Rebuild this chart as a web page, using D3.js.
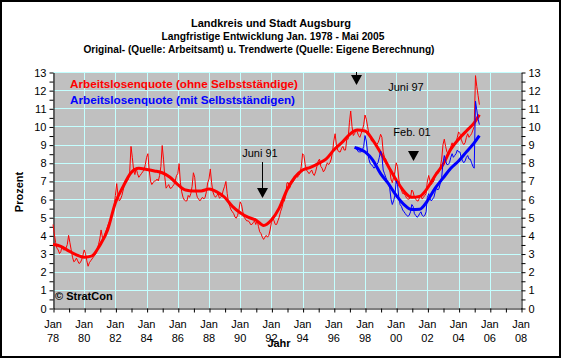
<!DOCTYPE html>
<html>
<head>
<meta charset="utf-8">
<script src="https://cdn.jsdelivr.net/npm/d3@7"></script>
<style>
  body { margin: 0; background: #fff; }
  text { font-family: Arial, "Liberation Sans", sans-serif; }
</style>
</head>
<body>
<svg width="561" height="358"></svg>
<script>
// monthly values, Jan 1978 - May 2005 (ohne Selbststaendige)
const redOriginal = [
  4.6, 4.1, 3.6, 3.3, 3.2, 3.0, 3.1, 3.4, 3.2, 3.2, 3.3, 3.5,   // 78
  4.0, 3.6, 3.2, 2.8, 2.55, 2.6, 2.75, 2.6, 2.45, 2.5, 2.65, 2.9, // 79
  3.2, 3.0, 2.6, 2.3, 2.5, 2.6, 2.7, 2.8, 2.9, 3.0, 3.2, 3.5,   // 80
  3.8, 4.3, 3.9, 3.8, 4.1, 4.3, 4.5, 4.7, 4.8, 5.0, 5.3, 5.6,   // 81
  6.2, 6.85, 6.2, 5.9, 6.0, 6.2, 6.5, 6.8, 6.9, 7.0, 7.1, 7.5,  // 82
  8.9, 8.3, 7.6, 7.35, 7.7, 7.4, 7.2, 7.3, 7.4, 7.5, 7.6, 7.9,  // 83
  8.3, 8.5, 7.6, 7.0, 6.8, 6.9, 7.0, 7.0, 7.1, 7.0, 7.3, 7.8,   // 84
  8.95, 8.2, 7.2, 6.6, 6.7, 6.8, 6.6, 6.6, 6.7, 6.8, 7.0, 7.3,  // 85
  7.4, 7.95, 6.9, 6.4, 6.1, 5.95, 5.9, 5.9, 6.2, 6.1, 6.3, 6.7, // 86
  7.45, 7.2, 6.4, 6.1, 6.0, 5.9, 6.0, 6.1, 6.0, 6.1, 6.4, 6.9,  // 87
  7.1, 7.66, 6.9, 6.4, 6.2, 6.1, 6.2, 6.3, 6.05, 6.1, 6.2, 6.5, // 88
  6.7, 6.97, 6.3, 5.8, 5.6, 5.4, 5.3, 5.2, 5.0, 4.95, 5.1, 5.4, // 89
  5.85, 5.7, 5.3, 5.0, 4.9, 4.8, 4.8, 4.75, 4.6, 4.6, 4.7, 4.8, // 90
  4.6, 4.85, 4.5, 4.2, 4.1, 3.9, 3.78, 3.9, 4.0, 3.9, 4.0, 4.3, // 91
  4.7, 5.0, 4.8, 4.6, 4.6, 4.8, 5.0, 5.3, 5.5, 5.8, 5.9, 6.2,   // 92
  6.9, 6.9, 6.6, 6.8, 6.9, 7.0, 7.1, 7.3, 7.2, 7.3, 7.4, 7.8,   // 93
  8.5, 8.4, 7.9, 7.6, 7.5, 7.4, 7.5, 7.6, 7.4, 7.3, 7.5, 7.8,   // 94
  8.1, 8.2, 7.8, 7.7, 7.5, 7.6, 7.8, 8.0, 7.9, 8.0, 8.2, 8.6,   // 95
  9.2, 9.6, 9.0, 8.7, 8.6, 8.6, 8.8, 8.9, 8.7, 8.7, 9.3, 9.3,   // 96
  10.2, 10.85, 10.0, 9.5, 9.6, 9.8, 9.7, 9.5, 9.4, 9.6, 9.8, 10.1, // 97
  10.63, 10.4, 10.0, 9.6, 9.4, 9.2, 9.2, 9.1, 9.0, 9.0, 9.1, 9.3,  // 98
  9.57, 9.4, 8.6, 8.3, 8.2, 8.0, 7.8, 7.6, 7.1, 6.9, 7.2, 7.5,     // 99
  8.0, 7.8, 7.1, 6.7, 6.5, 6.3, 6.3, 6.2, 6.05, 6.0, 6.0, 6.1,     // 00
  6.5, 6.4, 6.1, 6.0, 5.9, 5.9, 6.1, 6.2, 6.0, 6.1, 6.2, 6.3,      // 01
  7.0, 7.3, 7.0, 6.8, 6.9, 7.0, 7.3, 7.5, 7.4, 7.5, 7.8, 8.2,      // 02
  9.0, 9.3, 8.9, 8.6, 8.5, 8.6, 8.9, 9.1, 8.9, 9.0, 9.1, 9.4,      // 03
  9.7, 9.6, 9.3, 9.1, 9.0, 9.1, 9.4, 9.6, 9.4, 9.5, 9.6, 9.8,      // 04
  10.0, 12.8, 12.2, 11.7, 11.2                                      // 05
];

// monthly values, May 1997 - May 2005 (mit Selbststaendigen)
const blueStart = 1997 + 4 / 12;
const blueOriginal = [
  8.8, 8.8, 8.7, 8.6, 8.6, 8.6, 8.7, 8.9,                          // 97
  9.5, 9.2, 8.55, 8.2, 7.95, 7.9, 7.8, 7.7, 7.8, 7.9, 8.0, 8.3,     // 98
  8.65, 8.4, 7.6, 7.4, 7.2, 7.0, 6.9, 6.6, 6.0, 5.7, 5.9, 6.2,      // 99
  7.0, 6.8, 6.1, 5.7, 5.6, 5.4, 5.3, 5.2, 5.1, 5.05, 5.1, 5.3,      // 00
  5.7, 5.6, 5.2, 5.1, 5.0, 5.05, 5.2, 5.3, 5.1, 5.05, 5.1, 5.3,     // 01
  6.1, 6.3, 6.0, 5.9, 6.0, 6.1, 6.4, 6.6, 6.5, 6.6, 6.9, 7.2,       // 02
  8.0, 8.4, 8.1, 7.9, 7.9, 8.0, 8.3, 8.5, 8.3, 8.4, 8.5, 8.7,       // 03
  8.6, 8.6, 8.3, 8.1, 8.0, 8.1, 8.3, 8.4, 8.2, 8.2, 8.0, 7.8,       // 04
  7.7, 11.4, 10.9, 10.4, 10.1                                        // 05
];

// trend values read at half-year steps
const redTrendT = [1978, 1978.5, 1979, 1979.5, 1980, 1980.5, 1981, 1981.5, 1982, 1982.5,
  1983, 1983.5, 1984, 1984.5, 1985, 1985.5, 1986, 1986.5, 1987, 1987.5, 1988, 1988.5,
  1989, 1989.5, 1990, 1990.5, 1991, 1991.5, 1992, 1992.5, 1993, 1993.5, 1994, 1994.5,
  1995, 1995.5, 1996, 1996.5, 1997, 1997.5, 1998, 1998.5, 1999, 1999.5, 2000, 2000.5,
  2001, 2001.5, 2002, 2002.5, 2003, 2003.5, 2004, 2004.5, 2005, 2005.33];
const redTrend = [3.5, 3.4, 3.15, 2.93, 2.8, 2.87, 3.45, 4.3, 5.8, 6.7,
  7.45, 7.7, 7.63, 7.55, 7.45, 7.2, 6.8, 6.5, 6.45, 6.45, 6.55, 6.4,
  6.1, 5.6, 5.25, 5.0, 4.85, 4.55, 4.85, 5.5, 6.5, 7.2, 7.6, 7.75,
  7.95, 8.2, 8.7, 9.1, 9.55, 9.8, 9.75, 9.25, 8.55, 7.8, 7.05, 6.43,
  6.1, 6.15, 6.6, 7.3, 7.9, 8.75, 9.3, 9.75, 10.2, 10.65];

const blueTrendT = [1997.33, 1997.5, 1998, 1998.5, 1999, 1999.5, 2000, 2000.5, 2001, 2001.5,
  2002, 2002.5, 2003, 2003.5, 2004, 2004.5, 2005, 2005.33];
const blueTrend = [8.85, 8.8, 8.6, 8.15, 7.4, 6.85, 6.2, 5.7, 5.42, 5.44,
  5.9, 6.6, 7.15, 7.7, 8.1, 8.6, 9.1, 9.5];

const yearLabels = d3.range(1978, 2009, 2);
const titleLines = [
  "Landkreis  und Stadt Augsburg",
  "Langfristige Entwicklung Jan. 1978 - Mai 2005",
  "Original- (Quelle: Arbeitsamt) u. Trendwerte (Quelle: Eigene Berechnung)"
];

const svg = d3.select("svg");

// white chart area with black frame
svg.append("rect")
  .attr("x", 1).attr("y", 1).attr("width", 559).attr("height", 356)
  .attr("fill", "#fff").attr("stroke", "#000").attr("stroke-width", 2);

const pLeft = 53, pRight = 521, pTop = 72, pBottom = 308;

const x = d3.scaleLinear().domain([1978, 2008]).range([pLeft, pRight]);
const y = d3.scaleLinear().domain([0, 13]).range([pBottom, pTop]);

// plot area
svg.append("rect")
  .attr("x", pLeft).attr("y", pTop)
  .attr("width", pRight - pLeft).attr("height", pBottom - pTop)
  .attr("fill", "#c0c0c0");

// grid
const gridColor = "#c4ffff";
svg.append("g").selectAll("line")
  .data(d3.range(1980, 2008, 2))
  .join("line")
    .attr("x1", d => Math.round(x(d)) + 0.5).attr("x2", d => Math.round(x(d)) + 0.5)
    .attr("y1", pTop).attr("y2", pBottom)
    .attr("stroke", gridColor);
svg.append("g").selectAll("line")
  .data(d3.range(1, 14))
  .join("line")
    .attr("y1", d => Math.round(y(d)) + 0.5).attr("y2", d => Math.round(y(d)) + 0.5)
    .attr("x1", pLeft).attr("x2", pRight)
    .attr("stroke", gridColor);

// axes
const yTicks = d3.range(0, 13.01, 0.5);
const fmtY = d => Number.isInteger(d) ? d : "";

svg.append("g")
  .attr("transform", `translate(${pLeft + 0.5},0.5)`)
  .call(d3.axisLeft(y).tickValues(yTicks).tickSize(4).tickSizeOuter(0).tickFormat(fmtY))
  .call(g => g.selectAll("text").attr("font-size", 11).attr("fill", "#000").attr("font-family", "Arial"));

svg.append("g")
  .attr("transform", `translate(${pRight + 0.5},0.5)`)
  .call(d3.axisRight(y).tickValues(yTicks).tickSize(4).tickSizeOuter(0).tickFormat(fmtY))
  .call(g => g.selectAll("text").attr("font-size", 11).attr("fill", "#000").attr("font-family", "Arial"));

svg.append("g")
  .attr("transform", `translate(0.5,${pBottom + 0.5})`)
  .call(d3.axisBottom(x).tickValues(d3.range(1978, 2009)).tickSize(4).tickSizeOuter(0).tickFormat(""));

svg.selectAll(".domain, .tick line").attr("stroke", "#000");

// x labels: "Jan" over two-digit year
const xl = svg.append("g").selectAll("text")
  .data(yearLabels)
  .join("text")
    .attr("x", d => x(d))
    .attr("text-anchor", "middle")
    .attr("font-size", 11);
xl.append("tspan").attr("x", d => x(d)).attr("y", 328).text("Jan");
xl.append("tspan").attr("x", d => x(d)).attr("y", 342).text(d => String(d).slice(2));

// lines
const line = d3.line().x(d => x(d[0])).y(d => y(d[1]));
const smooth = d3.line().x(d => x(d[0])).y(d => y(d[1])).curve(d3.curveMonotoneX);

const redPts = redOriginal.map((v, i) => [1978 + i / 12, v]);
const bluePts = blueOriginal.map((v, i) => [blueStart + i / 12, v]);
const redTr = redTrendT.map((t, i) => [t, redTrend[i]]);
const blueTr = blueTrendT.map((t, i) => [t, blueTrend[i]]);

svg.append("path").attr("d", line(redPts))
  .attr("fill", "none").attr("stroke", "#ff0000").attr("stroke-width", 1);
svg.append("path").attr("d", smooth(redTr))
  .attr("fill", "none").attr("stroke", "#ff0000").attr("stroke-width", 3);
svg.append("path").attr("d", line(bluePts))
  .attr("fill", "none").attr("stroke", "#0000ff").attr("stroke-width", 1);
svg.append("path").attr("d", smooth(blueTr))
  .attr("fill", "none").attr("stroke", "#0000ff").attr("stroke-width", 3);

// titles (widths)
const titleX = [271, 273, 259];
const titleW = [160, 223, 351];
svg.append("g").selectAll("text")
  .data(titleLines)
  .join("text")
    .attr("x", (d, i) => titleX[i] - titleW[i] / 2)
    .attr("y", (d, i) => 27 + i * 13)
    .attr("textLength", (d, i) => titleW[i])
    .attr("lengthAdjust", "spacingAndGlyphs")
    .attr("font-size", 11).attr("font-weight", "bold")
    .text(d => d);

// legend texts inside plot
svg.append("text").attr("x", 70).attr("y", 88)
  .attr("font-size", 11.5).attr("font-weight", "bold").attr("fill", "#ff0000")
  .attr("textLength", 228).attr("lengthAdjust", "spacingAndGlyphs")
  .text("Arbeitslosenquote (ohne Selbstständige)");
svg.append("text").attr("x", 70).attr("y", 104)
  .attr("font-size", 11.5).attr("font-weight", "bold").attr("fill", "#0000ff")
  .attr("textLength", 225).attr("lengthAdjust", "spacingAndGlyphs")
  .text("Arbeitslosenquote (mit Selbstständigen)");

svg.append("text").attr("x", 55).attr("y", 300)
  .attr("font-size", 11).attr("font-weight", "bold")
  .text("© StratCon");

// axis titles
svg.append("text")
  .attr("transform", "translate(23,192) rotate(-90)")
  .attr("text-anchor", "middle")
  .attr("font-size", 11).attr("font-weight", "bold")
  .text("Prozent");
svg.append("text").attr("x", 279).attr("y", 347)
  .attr("text-anchor", "middle")
  .attr("font-size", 11).attr("font-weight", "bold")
  .text("Jahr");

// annotations: label and arrow
function arrow(t, y1, y2) {
  const ax = Math.round(x(t)) + 0.5;
  svg.append("line").attr("x1", ax).attr("x2", ax).attr("y1", y1).attr("y2", y2 - 4)
    .attr("stroke", "#000");
  svg.append("path")
    .attr("d", `M${ax - 5.5},${y2 - 10}L${ax + 5.5},${y2 - 10}L${ax},${y2}Z`)
    .attr("fill", "#000");
}
arrow(1991 + 5 / 12, 162, 198);
arrow(1997 + 5 / 12, 72, 85);
arrow(2001 + 1 / 12, 151, 161);

svg.append("text").attr("x", 260).attr("y", 157).attr("text-anchor", "middle")
  .attr("font-size", 11).text("Juni 91");
svg.append("text").attr("x", 406).attr("y", 91).attr("text-anchor", "middle")
  .attr("font-size", 11).text("Juni 97");
svg.append("text").attr("x", 412).attr("y", 136).attr("text-anchor", "middle")
  .attr("font-size", 11).text("Feb. 01");
</script>
</body>
</html>
